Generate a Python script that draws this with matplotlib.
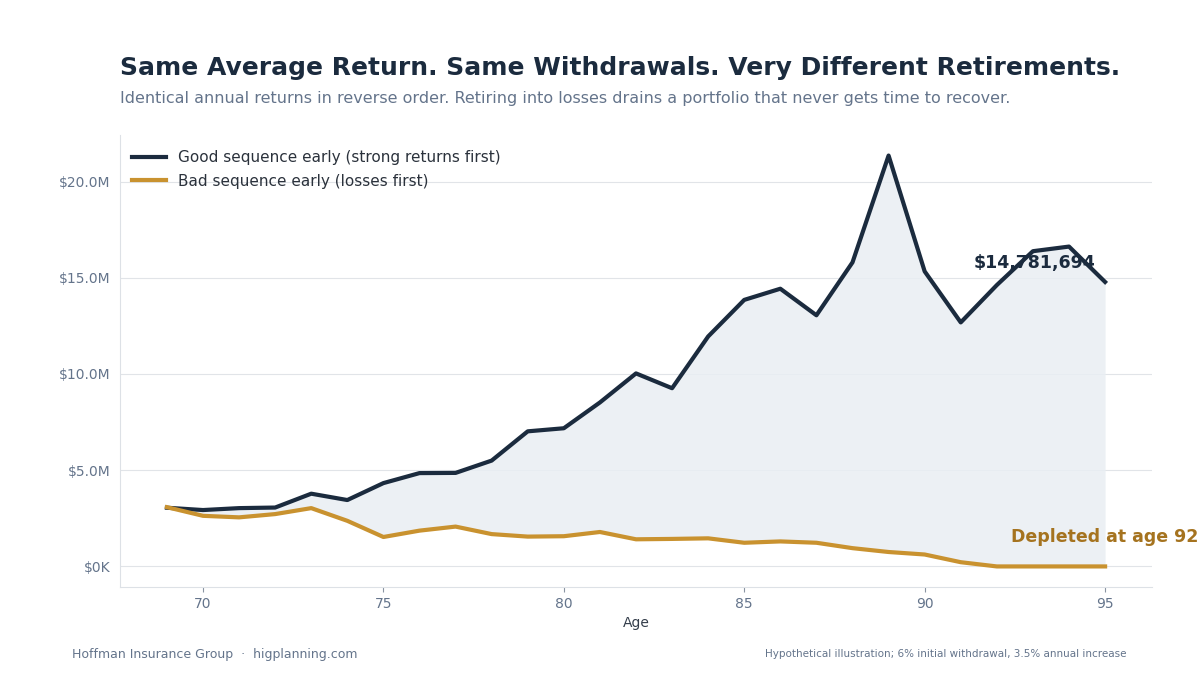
import matplotlib
matplotlib.use("Agg")
import matplotlib.pyplot as plt
from matplotlib.ticker import FuncFormatter

# Ages and portfolio values (in $M)
ages = list(range(69, 96))
good_seq = [3.05, 2.93, 3.03, 3.06, 3.78, 3.45, 4.33, 4.85, 4.86, 5.5, 7.02, 7.18,
            8.52, 10.03, 9.26, 11.95, 13.85, 14.43, 13.05, 15.8, 21.35, 15.33,
            12.68, 14.62, 16.38, 16.62, 14.781694]
bad_seq = [3.08, 2.63, 2.55, 2.72, 3.03, 2.37, 1.53, 1.86, 2.07, 1.68, 1.55, 1.57,
           1.79, 1.41, 1.43, 1.46, 1.23, 1.3, 1.23, 0.95, 0.75, 0.62, 0.22, 0.0,
           0.0, 0.0, 0.0]

good_label = "Good sequence early (strong returns first)"
bad_label = "Bad sequence early (losses first)"
end_value = 14781694
depleted_age = 92

NAVY = "#1b2b3e"
GOLD = "#c9922f"
GREY = "#64748b"

fig = plt.figure(figsize=(12, 6.75), dpi=100)
ax = fig.add_axes([0.1, 0.1304, 0.86, 0.6696])

ax.fill_between(ages, bad_seq, good_seq, color="#e9eef3", alpha=0.85, linewidth=0)
ax.plot(ages, good_seq, color=NAVY, lw=3, label=good_label)
ax.plot(ages, bad_seq, color=GOLD, lw=3, label=bad_label)

ax.yaxis.set_major_formatter(FuncFormatter(
    lambda v, p: "$0K" if v == 0 else (f"${v:.1f}M" if v > 0 else f"-${-v:.1f}M")))
ax.set_yticks([0, 5, 10, 15, 20])
ax.set_xticks([70, 75, 80, 85, 90, 95])

ax.grid(axis="y", color="#e1e4e8", lw=0.8)
ax.set_axisbelow(True)
for s in ["top", "right"]:
    ax.spines[s].set_visible(False)
for s in ["left", "bottom"]:
    ax.spines[s].set_color("#dde1e6")
ax.tick_params(axis="y", length=0, labelcolor=GREY, labelsize=10, pad=7)
ax.tick_params(axis="x", color="#8a94a3", labelcolor=GREY, labelsize=10)
ax.set_xlabel("Age", color="#333d4a", fontsize=10)

leg = ax.legend(loc="upper left", bbox_to_anchor=(0, 0.993), frameon=False,
                fontsize=11, handlelength=2.2, labelspacing=0.55, borderaxespad=0.4)
for t in leg.get_texts():
    t.set_color("#2b323c")

ax.text(93.05, good_seq[-1] + 1.0, f"${end_value:,}", color=NAVY, fontsize=12.5,
        fontweight="bold", ha="center", va="center")
ax.text(depleted_age + 0.4, 1.55, f"Depleted at age {depleted_age}", color="#a5731f",
        fontsize=12.5, fontweight="bold", ha="left", va="center", clip_on=False)

fig.text(0.1, 0.9, "Same Average Return. Same Withdrawals. Very Different Retirements.",
         fontsize=18, fontweight="bold", color="#1b2b3e", va="center")
fig.text(0.1, 0.854, "Identical annual returns in reverse order. Retiring into losses drains a portfolio that never gets time to recover.",
         fontsize=11.5, color=GREY, va="center")
fig.text(0.06, 0.031, "Hoffman Insurance Group  \u00b7  higplanning.com",
         fontsize=9, color=GREY, va="center")
fig.text(0.939, 0.031, "Hypothetical illustration; 6% initial withdrawal, 3.5% annual increase",
         fontsize=7.5, color=GREY, va="center", ha="right")

fig.savefig("out.png", dpi=100)
